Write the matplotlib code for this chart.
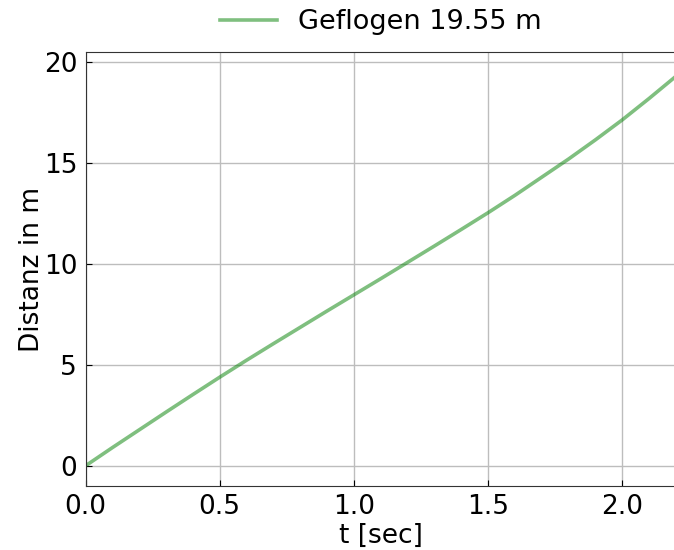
import matplotlib
matplotlib.use("Agg")
import matplotlib.pyplot as plt

t = [0.0, 0.1, 0.2, 0.3, 0.4, 0.5, 0.6, 0.7, 0.8, 0.9, 1.0, 1.1,
     1.2, 1.3, 1.4, 1.5, 1.6, 1.7, 1.8, 1.9, 2.0, 2.1, 2.2]
dist = [0.0, 0.90, 1.78, 2.66, 3.53, 4.39, 5.23, 6.05, 6.86, 7.67, 8.47, 9.27,
        10.08, 10.89, 11.71, 12.54, 13.40, 14.30, 15.20, 16.15, 17.14, 18.20, 19.30]
label = "Geflogen 19.55 m"
xticks = [0.0, 0.5, 1.0, 1.5, 2.0]
yticks = [0, 5, 10, 15, 20]

W, H = 674, 550
fig = plt.figure(figsize=(W / 100, H / 100), dpi=100)
ax = fig.add_axes([85.5 / W, (H - 486) / H, (676 - 85.5) / W, (486 - 52) / H])

line, = ax.plot(t, dist, color="g", alpha=0.5, lw=2.6, label=label)
ax.set_xlim(0, 2.2)
ax.set_ylim(-1, 20.5)
ax.set_xticks(xticks)
ax.set_yticks(yticks)
ax.grid(True, color="#bdbdbd", lw=1)
ax.set_axisbelow(True)
ax.tick_params(direction="in", labelsize=19, length=4, pad=6)
ax.set_xlabel("t [sec]", fontsize=19, labelpad=2)
ax.set_ylabel("Distanz in m", fontsize=19, labelpad=-1)
for s in ax.spines.values():
    s.set_color("#333333")

fig.legend(handles=[line], loc="center", bbox_to_anchor=(381 / W, 1 - 22 / H),
           frameon=False, fontsize=19.5, handlelength=2.1)

fig.savefig("out.png", dpi=100)
